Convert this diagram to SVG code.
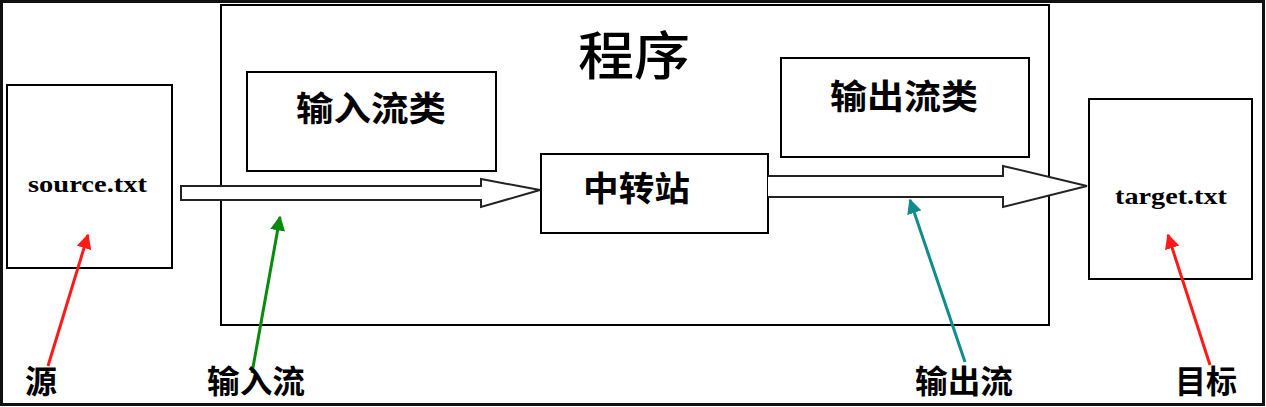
<svg xmlns="http://www.w3.org/2000/svg" width="1266" height="407" viewBox="0 0 1266 407">
<style>
.box{fill:#fff;stroke:#000;stroke-width:2}
.zh{font-family:"Noto Sans CJK SC",sans-serif;font-weight:bold;fill:#000}
.en{font-family:"Liberation Serif",serif;font-weight:bold;fill:#000;font-size:23px}
.big{fill:#fff;stroke:#222;stroke-width:2}
</style>
<defs>
<marker id="hr" viewBox="0 0 10 10" refX="9" refY="5" markerWidth="5" markerHeight="5" orient="auto" markerUnits="strokeWidth"><path d="M0,0 L10,5 L0,10 z" fill="#ff1a1a"/></marker>
<marker id="hg" viewBox="0 0 10 10" refX="9" refY="5" markerWidth="5" markerHeight="5" orient="auto" markerUnits="strokeWidth"><path d="M0,0 L10,5 L0,10 z" fill="#0a8a0a"/></marker>
<marker id="ht" viewBox="0 0 10 10" refX="9" refY="5" markerWidth="5" markerHeight="5" orient="auto" markerUnits="strokeWidth"><path d="M0,0 L10,5 L0,10 z" fill="#108c8c"/></marker>
</defs>
<rect x="0" y="0" width="1266" height="407" fill="#fff"/>
<rect x="1.5" y="1.5" width="1262" height="403" fill="none" stroke="#111" stroke-width="3"/>
<g id="program">
<rect class="box" x="221" y="5" width="828" height="320"/>
<text class="zh" x="578" y="75" font-size="52" textLength="112" lengthAdjust="spacingAndGlyphs" style="font-weight:500">程序</text>
</g>
<g id="source">
<rect class="box" x="7" y="85" width="165" height="183"/>
<text class="en" x="28" y="192" textLength="119" lengthAdjust="spacingAndGlyphs">source.txt</text>
</g>
<g id="inputClass">
<rect class="box" x="247" y="72" width="249" height="99"/>
<text class="zh" x="296" y="121" font-size="34" textLength="150" lengthAdjust="spacingAndGlyphs">输入流类</text>
</g>
<g id="relay">
<rect class="box" x="541" y="154" width="227" height="79"/>
<text class="zh" x="583" y="201" font-size="34" textLength="107" lengthAdjust="spacingAndGlyphs">中转站</text>
</g>
<g id="outputClass">
<rect class="box" x="781" y="58" width="248" height="99"/>
<text class="zh" x="830" y="109" font-size="34" textLength="148" lengthAdjust="spacingAndGlyphs">输出流类</text>
</g>
<g id="target">
<rect class="box" x="1089" y="99" width="163" height="180"/>
<text class="en" x="1115" y="204" textLength="112" lengthAdjust="spacingAndGlyphs">target.txt</text>
</g>
<g id="connectors">
<path class="big" d="M181,186 L481,186 L481,179 L540,190 L481,207 L481,200 L181,200 Z"/>
<path class="big" d="M768,176 L1003,176 L1003,166 L1087,186 L1003,207 L1003,197 L768,197"/>
<line x1="48" y1="366" x2="88" y2="235" stroke="#ff1a1a" stroke-width="3" marker-end="url(#hr)"/>
<line x1="252" y1="373" x2="280" y2="217" stroke="#0a8a0a" stroke-width="3" marker-end="url(#hg)"/>
<line x1="965" y1="362" x2="910" y2="200" stroke="#108c8c" stroke-width="3" marker-end="url(#ht)"/>
<line x1="1210" y1="365" x2="1168" y2="235" stroke="#ff1a1a" stroke-width="3" marker-end="url(#hr)"/>
</g>
<g id="labels">
<text class="zh" x="25" y="393" font-size="32" textLength="32" lengthAdjust="spacingAndGlyphs">源</text>
<text class="zh" x="207" y="393" font-size="32" textLength="98" lengthAdjust="spacingAndGlyphs">输入流</text>
<text class="zh" x="915" y="393" font-size="32" textLength="98" lengthAdjust="spacingAndGlyphs">输出流</text>
<text class="zh" x="1175" y="393" font-size="32" textLength="62" lengthAdjust="spacingAndGlyphs">目标</text>
</g>
</svg>
